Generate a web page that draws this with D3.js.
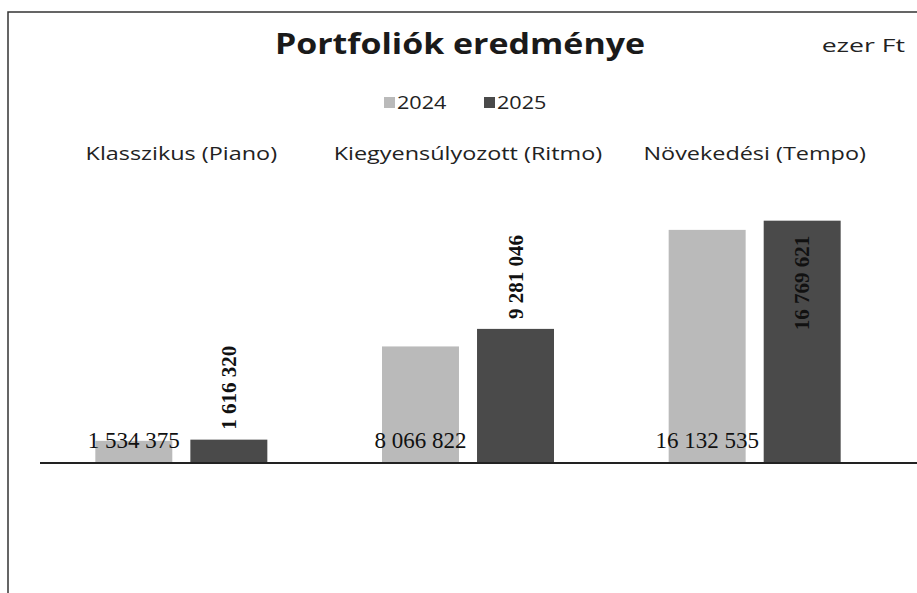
<!DOCTYPE html>
<html>
<head>
<meta charset="utf-8">
<script src="https://cdn.jsdelivr.net/npm/d3@7"></script>
<style>
  body { margin: 0; background: #fff; }
  svg { display: block; }
</style>
</head>
<body>
<div id="chart"></div>
<script>
// data
var categories = ["Klasszikus (Piano)", "Kiegyensúlyozott (Ritmo)", "Növekedési (Tempo)"];
var seriesNames = ["2024", "2025"];
var values2024 = [1534375, 8066822, 16132535];
var values2025 = [1616320, 9281046, 16769621];
var seriesColors = ["#bababa", "#4a4a4a"];

var width = 917, height = 593;
var baseline = 463;

var svg = d3.select("#chart").append("svg")
  .attr("width", width)
  .attr("height", height);

// frame of the chart (only top and left side are visible)
svg.append("rect")
  .attr("x", 8).attr("y", 12)
  .attr("width", width + 20).attr("height", height + 20)
  .attr("fill", "#fff")
  .attr("stroke", "#333")
  .attr("stroke-width", 1.5);

var x0 = d3.scaleBand()
  .domain(categories)
  .range([38, 898])
  .paddingInner(0.4)
  .paddingOuter(0.2);

var x1 = d3.scaleBand()
  .domain(seriesNames)
  .range([0, x0.bandwidth()])
  .paddingInner(0.19);

var y = d3.scaleLinear()
  .domain([0, 20000000])
  .range([baseline, 174]);

var fmt = d3.formatLocale({ decimal: ",", thousands: " ", grouping: [3], currency: ["", " Ft"] }).format(",d");

var rows = categories.map(function(c, i) {
  return { cat: c, vals: [values2024[i], values2025[i]] };
});

// stretch text a bit, the original font runs wider
function widen(sel, k) {
  sel.each(function() {
    var w = this.getComputedTextLength();
    d3.select(this).attr("textLength", w * k).attr("lengthAdjust", "spacingAndGlyphs");
  });
}

// title
svg.append("text")
  .attr("x", 460).attr("y", 54)
  .attr("text-anchor", "middle")
  .style("font-family", "'Open Sans', sans-serif")
  .style("font-weight", "bold")
  .style("font-size", "29px")
  .style("fill", "#1a1a1a")
  .text("Portfoliók eredménye")
  .call(widen, 1.17);

svg.append("text")
  .attr("x", 905).attr("y", 52)
  .attr("text-anchor", "end")
  .style("font-family", "'Open Sans', sans-serif")
  .style("font-size", "19px")
  .style("fill", "#222")
  .text("ezer Ft")
  .call(widen, 1.4);

// legend
var leg = svg.append("g").attr("transform", "translate(384,103)");
seriesNames.forEach(function(s, i) {
  var g = leg.append("g").attr("transform", "translate(" + (i * 100) + ",0)");
  g.append("rect")
    .attr("x", 0).attr("y", -6)
    .attr("width", 11).attr("height", 11)
    .attr("fill", seriesColors[i]);
  g.append("text")
    .attr("x", 13).attr("y", 6)
    .style("font-family", "'Open Sans', sans-serif")
    .style("font-size", "18px")
    .style("fill", "#222")
    .text(s)
    .call(widen, 1.2);
});

// category labels on top
svg.selectAll(".catlabel")
  .data(categories)
  .enter().append("text")
  .attr("class", "catlabel")
  .attr("x", function(d) { return x0(d) + x0.bandwidth() / 2; })
  .attr("y", 160)
  .attr("text-anchor", "middle")
  .style("font-family", "'Open Sans', sans-serif")
  .style("font-size", "18px")
  .style("fill", "#222")
  .text(function(d) { return d; })
  .call(widen, 1.3);

// bars
var groups = svg.selectAll(".grp")
  .data(rows)
  .enter().append("g")
  .attr("class", "grp")
  .attr("transform", function(d) { return "translate(" + x0(d.cat) + ",0)"; });

groups.selectAll("rect")
  .data(function(d) { return d.vals.map(function(v, i) { return { s: seriesNames[i], v: v, i: i }; }); })
  .enter().append("rect")
  .attr("x", function(d) { return x1(d.s); })
  .attr("y", function(d) { return y(d.v); })
  .attr("width", x1.bandwidth())
  .attr("height", function(d) { return baseline - y(d.v); })
  .attr("fill", function(d) { return seriesColors[d.i]; });

// axis line
svg.append("line")
  .attr("x1", 40).attr("x2", width)
  .attr("y1", baseline).attr("y2", baseline)
  .attr("stroke", "#222")
  .attr("stroke-width", 2);

// 2024 labels: horizontal, at the bottom of the bar
groups.append("text")
  .attr("x", x1("2024") + x1.bandwidth() / 2)
  .attr("y", baseline - 15)
  .attr("text-anchor", "middle")
  .style("font-family", "'Liberation Serif', serif")
  .style("font-size", "23px")
  .style("fill", "#111")
  .text(function(d) { return fmt(d.vals[0]); });

// 2025 labels: rotated, above bar or inside if no room
groups.append("text")
  .attr("transform", function(d) {
    var cx = x1("2025") + x1.bandwidth() / 2 + 7;
    var top = y(d.vals[1]);
    var inside = top < 260;
    var yy = inside ? top + 15 : top - 10;
    return "translate(" + cx + "," + yy + ") rotate(-90)";
  })
  .attr("text-anchor", function(d) { return y(d.vals[1]) < 260 ? "end" : "start"; })
  .style("font-family", "'Liberation Serif', serif")
  .style("font-weight", "bold")
  .style("font-size", "21px")
  .style("fill", "#111")
  .text(function(d) { return fmt(d.vals[1]); });
</script>
</body>
</html>
